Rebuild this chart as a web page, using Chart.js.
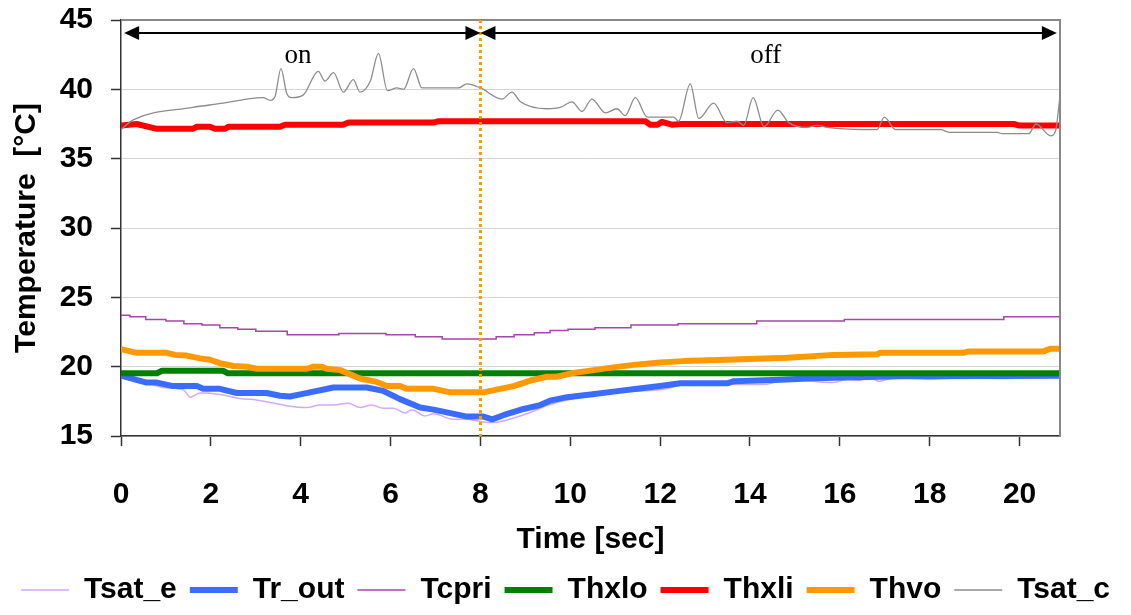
<!DOCTYPE html>
<html>
<head>
<meta charset="utf-8">
<script src="https://cdn.jsdelivr.net/npm/chart.js@4.4.1/dist/chart.umd.min.js"></script>
<style>
  body { margin: 0; background: #fff; }
</style>
</head>
<body>
<canvas id="myChart" width="1131" height="615"></canvas>
<script>
// values (time in sec, temperature in °C)
var tsatETime = [0, 0.57, 0.94, 1.39, 1.54, 1.76, 2.2, 2.65, 3.02, 3.61, 4.14, 4.43, 4.73, 5.06, 5.32, 5.58, 5.84, 6.06, 6.33, 6.47, 6.77, 6.96, 7.4, 7.7, 7.92, 8.18, 8.37, 8.74, 9.11, 9.48, 9.93, 10.45, 10.96, 12.15, 12.45, 14.38, 14.83, 15.86, 16.16, 16.42, 16.68, 16.87, 17.13, 17.35, 18.02, 18.69, 19.58, 20.9];
var tsatE     = [19.35, 18.85, 18.5, 18.33, 17.8, 18.1, 18.0, 17.7, 17.6, 17.23, 17.05, 17.23, 17.23, 17.37, 17.05, 17.23, 17.0, 17.0, 16.65, 16.9, 16.45, 16.6, 16.2, 16.2, 16.1, 15.98, 16.0, 16.3, 16.7, 17.2, 17.6, 17.9, 18.15, 18.4, 18.67, 18.74, 19.1, 18.85, 19.1, 19.0, 19.2, 18.95, 19.15, 19.2, 19.1, 19.2, 19.15, 19.25];

var trOutTime = [0, 0.57, 0.8, 1.16, 1.69, 1.83, 2.2, 2.58, 3.24, 3.54, 3.76, 3.99, 4.73, 5.47, 5.84, 6.21, 6.66, 6.96, 7.33, 7.7, 8.07, 8.26, 8.51, 8.96, 9.33, 9.55, 9.93, 10.45, 10.96, 11.49, 12.0, 12.45, 13.49, 13.64, 14.68, 15.42, 17.35, 20.9];
var trOut     = [19.35, 18.85, 18.85, 18.6, 18.6, 18.4, 18.4, 18.1, 18.1, 17.9, 17.85, 18.0, 18.5, 18.5, 18.25, 17.66, 17.05, 16.9, 16.65, 16.4, 16.4, 16.2, 16.5, 16.95, 17.23, 17.55, 17.8, 18.0, 18.2, 18.4, 18.6, 18.8, 18.8, 18.95, 19.05, 19.17, 19.3, 19.35];

var tcpriTime = [0, 0.2, 0.55, 1.0, 1.4, 1.8, 2.2, 2.6, 3.0, 3.7, 4.85, 5.9, 6.55, 7.15, 8.35, 8.75, 9.2, 9.55, 9.95, 10.55, 11.35, 12.4, 14.15, 16.1, 19.65, 20.9];
var tcpri     = [23.7, 23.6, 23.4, 23.3, 23.1, 23.0, 22.8, 22.7, 22.55, 22.3, 22.4, 22.3, 22.15, 22.0, 22.15, 22.3, 22.45, 22.6, 22.7, 22.8, 23.0, 23.1, 23.3, 23.4, 23.6, 23.6];

var thxloTime = [0, 0.8, 0.91, 2.27, 2.38, 20.9];
var thxlo     = [19.53, 19.53, 19.7, 19.7, 19.53, 19.53];

var thxliTime = [0, 0.35, 0.8, 1.6, 1.69, 1.98, 2.09, 2.32, 2.39, 3.54, 3.65, 4.94, 5.06, 6.96, 7.07, 11.67, 11.78, 11.94, 12.04, 12.26, 12.45, 19.87, 19.98, 20.9];
var thxli     = [37.4, 37.5, 37.15, 37.15, 37.3, 37.3, 37.15, 37.15, 37.3, 37.3, 37.45, 37.45, 37.6, 37.6, 37.7, 37.7, 37.45, 37.45, 37.65, 37.45, 37.5, 37.5, 37.4, 37.4];

var thvoTime = [0, 0.35, 1.02, 1.2, 1.46, 1.76, 1.98, 2.2, 2.5, 2.8, 3.02, 4.14, 4.28, 4.47, 4.58, 4.88, 5.32, 5.69, 5.92, 6.21, 6.36, 6.96, 7.33, 8.07, 8.44, 8.74, 9.11, 9.48, 9.7, 10.07, 10.52, 10.96, 11.41, 12.0, 12.52, 13.49, 14.83, 15.86, 16.83, 16.9, 18.75, 18.86, 20.53, 20.69, 20.9];
var thvo     = [21.26, 21.0, 21.0, 20.85, 20.8, 20.6, 20.5, 20.25, 20.05, 20.0, 19.85, 19.85, 20.0, 20.0, 19.85, 19.75, 19.15, 18.9, 18.6, 18.6, 18.4, 18.4, 18.15, 18.15, 18.4, 18.6, 19.0, 19.27, 19.27, 19.55, 19.75, 19.95, 20.13, 20.3, 20.4, 20.5, 20.65, 20.85, 20.9, 21.0, 21.0, 21.1, 21.1, 21.3, 21.3];

var tsatCTime = [0, 0.27, 1.6, 2.27, 2.81, 3.16, 3.32, 3.43, 3.56, 3.69, 3.8, 4.06, 4.39, 4.54, 4.73, 4.95, 5.17, 5.32, 5.55, 5.73, 5.93, 6.14, 6.29, 6.51, 6.7, 6.96, 7.51, 7.7, 8.0, 8.48, 8.7, 8.89, 9.48, 9.78, 10.04, 10.26, 10.48, 10.78, 11.04, 11.22, 11.45, 11.71, 12.3, 12.41, 12.67, 12.86, 13.19, 13.49, 13.71, 13.86, 14.07, 14.31, 14.62, 14.86, 15.27, 15.49, 15.72, 16.53, 16.83, 16.99, 17.24, 18.24, 18.43, 19.5, 19.61, 20.2, 20.37, 20.69, 20.8, 20.9];
var tsatC     = [37.1, 37.8, 38.7, 39.0, 39.3, 39.4, 39.2, 39.5, 41.5, 39.7, 39.4, 39.6, 41.3, 40.6, 41.2, 39.8, 40.7, 39.8, 40.6, 42.6, 39.9, 40.1, 40.0, 41.5, 40.1, 40.1, 40.1, 40.4, 40.1, 39.3, 39.8, 39.1, 38.6, 38.7, 39.1, 38.4, 39.3, 38.3, 38.6, 38.1, 39.4, 38.0, 38.0, 37.7, 40.4, 37.9, 39.0, 37.6, 37.7, 37.4, 39.4, 37.3, 38.5, 37.6, 37.25, 37.4, 37.25, 37.1, 37.1, 38.0, 37.1, 37.1, 36.9, 36.9, 36.8, 36.8, 37.5, 36.65, 37.0, 39.5];

var seriesNames = ['Tsat_e', 'Tr_out', 'Tcpri', 'Thxlo', 'Thxli', 'Thvo', 'Tsat_c'];

// on/off annotation
var switchTime = 8;
var phaseNames = ['on', 'off'];
var phaseSpans = [[0.07, 8], [8, 20.83]];
var phaseLabelTime = [3.94, 14.35];

function pts(t, v) {
    return t.map(function(x, i) { return {x: x, y: v[i]}; });
}

function arrowHead(ctx, x, y, dir) {
    ctx.beginPath();
    ctx.moveTo(x, y);
    ctx.lineTo(x + dir * 15, y - 7);
    ctx.lineTo(x + dir * 15, y + 7);
    ctx.closePath();
    ctx.fill();
}

var phasePlugin = {
    id: 'phases',
    afterDatasetsDraw: function(chart) {
        var ctx = chart.ctx, xs = chart.scales.x, ys = chart.scales.y, area = chart.chartArea;
        ctx.save();
        // grey frame on top and right
        ctx.strokeStyle = '#888';
        ctx.lineWidth = 2;
        ctx.beginPath();
        ctx.moveTo(area.left, area.top);
        ctx.lineTo(area.right, area.top);
        ctx.lineTo(area.right, area.bottom);
        ctx.stroke();

        // dotted switch line
        var sx = xs.getPixelForValue(switchTime);
        ctx.strokeStyle = '#ff9900';
        ctx.lineWidth = 3;
        ctx.setLineDash([3, 3]);
        ctx.beginPath();
        ctx.moveTo(sx, area.top);
        ctx.lineTo(sx, area.bottom);
        ctx.stroke();
        ctx.setLineDash([]);

        // double arrows
        var ay = ys.getPixelForValue(44.06);
        ctx.strokeStyle = '#000';
        ctx.fillStyle = '#000';
        ctx.lineWidth = 2;
        phaseSpans.forEach(function(span) {
            var a = xs.getPixelForValue(span[0]), b = xs.getPixelForValue(span[1]);
            ctx.beginPath();
            ctx.moveTo(a + 10, ay);
            ctx.lineTo(b - 10, ay);
            ctx.stroke();
            arrowHead(ctx, a, ay, 1);
            arrowHead(ctx, b, ay, -1);
        });

        ctx.font = '27px "Liberation Serif", "Times New Roman", serif';
        ctx.textAlign = 'center';
        ctx.textBaseline = 'alphabetic';
        var ly = ys.getPixelForValue(41.9);
        phaseNames.forEach(function(n, i) {
            ctx.fillText(n, xs.getPixelForValue(phaseLabelTime[i]), ly);
        });
        ctx.restore();
    }
};

var ctx = document.getElementById('myChart').getContext('2d');
var chart = new Chart(ctx, {
    type: 'line',
    data: {
        datasets: [{
            label: seriesNames[0], data: pts(tsatETime, tsatE),
            borderColor: '#d4a8ff', borderWidth: 1.5, order: 7, cubicInterpolationMode: 'monotone'
        }, {
            label: seriesNames[1], data: pts(trOutTime, trOut),
            borderColor: '#3a6cff', borderWidth: 6, order: 6, borderCapStyle: 'round', borderJoinStyle: 'round'
        }, {
            label: seriesNames[2], data: pts(tcpriTime, tcpri),
            borderColor: '#a347a8', borderWidth: 1.5, order: 5, stepped: true
        }, {
            label: seriesNames[3], data: pts(thxloTime, thxlo),
            borderColor: '#008000', borderWidth: 6, order: 4, borderCapStyle: 'round', borderJoinStyle: 'round'
        }, {
            label: seriesNames[4], data: pts(thxliTime, thxli),
            borderColor: '#ff0000', borderWidth: 6, order: 3, borderCapStyle: 'round', borderJoinStyle: 'round'
        }, {
            label: seriesNames[5], data: pts(thvoTime, thvo),
            borderColor: '#ff9900', borderWidth: 6, order: 2, borderCapStyle: 'round', borderJoinStyle: 'round'
        }, {
            label: seriesNames[6], data: pts(tsatCTime, tsatC),
            borderColor: '#8c8c8c', borderWidth: 1.3, order: 1, cubicInterpolationMode: 'monotone'
        }]
    },
    options: {
        responsive: false,
        animation: false,
        events: [],
        elements: { point: { radius: 0 } },
        layout: { padding: { left: 0, right: 0, top: 20, bottom: 0 } },
        scales: {
            x: {
                type: 'linear',
                min: 0,
                max: 20.9,
                afterFit: function(scale) { scale.height = 126; },
                border: { color: '#333', width: 1.5 },
                grid: { drawOnChartArea: false, tickLength: 10, tickColor: '#333', tickWidth: 1.5 },
                ticks: {
                    stepSize: 2,
                    includeBounds: false,
                    padding: 31,
                    color: '#000',
                    font: { family: '"Liberation Sans", Arial, sans-serif', size: 30, weight: 'bold' }
                },
                title: {
                    display: true,
                    text: 'Time [sec]',
                    color: '#000',
                    padding: { top: 0, bottom: 4 },
                    font: { family: '"Liberation Sans", Arial, sans-serif', size: 30, weight: 'bold' }
                }
            },
            y: {
                min: 15,
                max: 45,
                afterFit: function(scale) {
                    scale.width = 121;
                    scale.paddingTop = 0;
                    scale.paddingBottom = 0;
                },
                border: { color: '#333', width: 1.5 },
                grid: { color: '#d4d4d4', lineWidth: 1, tickLength: 10, tickColor: '#333', tickWidth: 1.5 },
                ticks: {
                    stepSize: 5,
                    padding: 18,
                    color: '#000',
                    font: { family: '"Liberation Sans", Arial, sans-serif', size: 30, weight: 'bold' }
                },
                title: {
                    display: true,
                    text: 'Temperature  [°C]',
                    color: '#000',
                    padding: { top: 9, bottom: 0 },
                    font: { family: '"Liberation Sans", Arial, sans-serif', size: 30, weight: 'bold' }
                }
            },
            // empty right margin, keeps the legend full width
            yRight: {
                position: 'right',
                min: 15,
                max: 45,
                afterFit: function(scale) { scale.width = 71; },
                border: { display: false },
                grid: { display: false },
                ticks: { display: false }
            }
        },
        plugins: {
            tooltip: { enabled: false },
            legend: {
                position: 'bottom',
                labels: {
                    usePointStyle: true,
                    pointStyle: 'line',
                    pointStyleWidth: 48,
                    padding: 13,
                    color: '#000',
                    font: { family: '"Liberation Sans", Arial, sans-serif', size: 30, weight: 'bold' },
                    sort: function(a, b) { return a.datasetIndex - b.datasetIndex; }
                }
            }
        }
    },
    plugins: [phasePlugin]
});
</script>
</body>
</html>
